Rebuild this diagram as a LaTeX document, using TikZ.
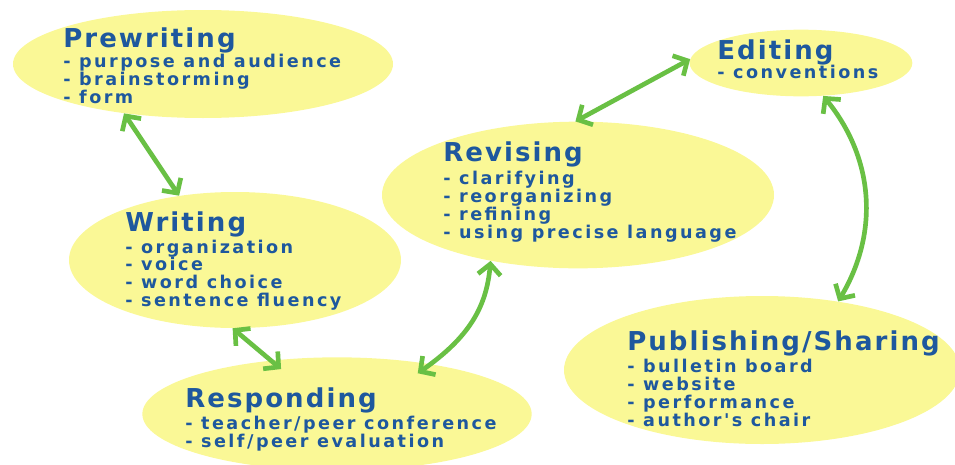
\documentclass[tikz,border=0pt]{standalone}
\usepackage{fontspec}
\usetikzlibrary{arrows.meta,shapes.geometric}
\newfontfamily\comicfont{DejaVu Sans}[LetterSpace=14]
\newfontfamily\comictitle{DejaVu Sans}[LetterSpace=8]
\newcommand\stagetitle{\comictitle\bfseries\fontsize{19.5}{13}\selectfont}
\newcommand\stageitems{\comicfont\bfseries\fontsize{13.2}{13.3}\selectfont\lineskiplimit=-100pt\relax}
\definecolor{bubble}{RGB}{250,248,150}
\definecolor{inkblue}{RGB}{30,88,158}
\definecolor{arrowgreen}{RGB}{105,192,68}
\tikzset{
  stage/.style={ellipse, fill=bubble, inner sep=0pt},
  notes/.style={anchor=north west, align=left, inner sep=0pt, text=inkblue, font=\stageitems},
  link/.style={{Straight Barb[length=8pt,width=17pt]}-{Straight Barb[length=8pt,width=17pt]}, draw=arrowgreen, line width=3.5pt}
}

\begin{document}
\begin{tikzpicture}[x=0.75pt, y=-0.75pt]
      \useasboundingbox (0,0) rectangle (955,464);

      \node[stage, minimum width=285pt, minimum height=81pt] (prewriting) at (203,64) {};
      \node[stage, minimum width=249pt, minimum height=102pt] (writing) at (235,260) {};
      \node[stage, minimum width=294pt, minimum height=110pt] (revising) at (578,195) {};
      \node[stage, minimum width=167pt, minimum height=50pt] (editing) at (801,63) {};
      \node[stage, minimum width=297pt, minimum height=111pt] (publishing) at (762,370) {};
      \node[stage, minimum width=292pt, minimum height=85pt] (responding) at (337,414) {};

      % Texts
      \node[notes] (prewritingtext) at (63,27) {{\stagetitle Prewriting}\\[2.4pt] - purpose and audience\\ - brainstorming\\ - form};
      \node[notes] (writingtext) at (125,211) {{\stagetitle Writing}\\[3.2pt] - organization\\ - voice\\ - word choice\\ - sentence fluency};
      \node[notes] (revisingtext) at (443,141) {{\stagetitle Revising}\\[4.6pt] - clarifying\\ - reorganizing\\ - refining\\ - using precise language};
      \node[notes] (editingtext) at (717,39) {{\stagetitle Editing}\\[1pt] - conventions};
      \node[notes] (publishingtext) at (627,330) {{\stagetitle Publishing/Sharing}\\[3.9pt] - bulletin board\\ - website\\ - performance\\ - author's chair};
      \node[notes] (respondingtext) at (185,387) {{\stagetitle Responding}\\[3.9pt] - teacher/peer conference\\ - self/peer evaluation};

      % Edges
      \draw[link] (prewriting.212) -- (writing.131);
      \draw[link, shorten >=-10pt] (writing.268) -- (responding.141);
      \draw[link, shorten <=-12pt] (responding.28) to[bend right=25] (revising.217);
      \draw[link] (revising.92) -- (editing.178);
      \draw[link] (editing.304) to[bend left=35] (publishing.42);
    \end{tikzpicture}
\end{document}
